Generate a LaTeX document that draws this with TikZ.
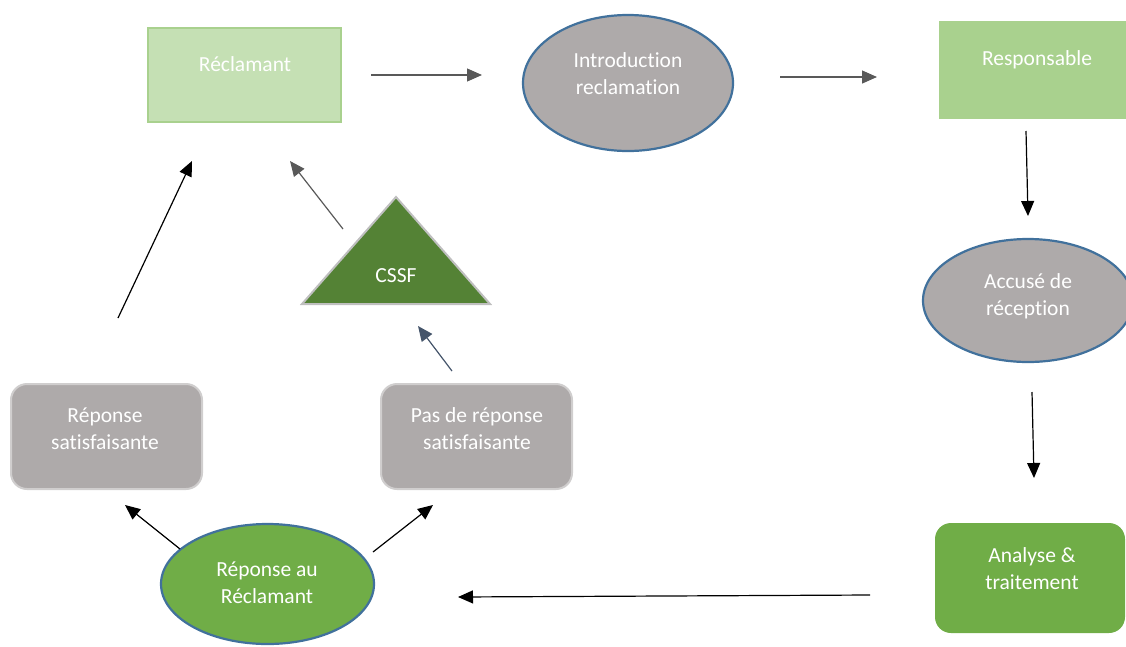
\documentclass[tikz,border=0pt]{standalone}
\usepackage{fontspec}
\setmainfont{Carlito}[Ligatures=NoCommon]
\usetikzlibrary{shapes,arrows.meta}

\definecolor{lgreen}{HTML}{C5E0B4}
\definecolor{mgreen}{HTML}{A9D18E}
\definecolor{green1}{HTML}{70AD47}
\definecolor{dgreen}{HTML}{548235}
\definecolor{grey1}{HTML}{AEAAAA}
\definecolor{grey2}{HTML}{D0CECE}
\definecolor{grey3}{HTML}{BFBFBF}
\definecolor{blue1}{HTML}{41719C}
\definecolor{dgrey}{HTML}{595959}
\definecolor{slate}{HTML}{44546A}

\begin{document}
\begin{tikzpicture}[x=1pt,y=-1pt]

	\tikzstyle{arrow1} = [-{Triangle[length=15pt,width=13pt]}, line width=1.2pt, draw=black]
	\tikzstyle{arrow2} = [arrow1, draw=dgrey]
	\tikzstyle{arrow3} = [arrow1, draw=slate]
	\tikzstyle{box1}=[rectangle, fill=lgreen, draw=mgreen, line width=2pt]
	\tikzstyle{box2}=[rectangle, fill=mgreen]
	\tikzstyle{box3}=[rectangle, rounded corners=16pt, fill=grey1, draw=grey2, line width=2pt]
	\tikzstyle{box4}=[rectangle, rounded corners=16pt, fill=green1]
	\tikzstyle{ell1}=[ellipse, fill=grey1, draw=blue1, line width=2.2pt]
	\tikzstyle{ell2}=[ellipse, fill=green1, draw=blue1, line width=2.2pt]
	\tikzstyle{txt}=[text=white, font=\fontsize{21.5}{27}\selectfont, align=center];

	\useasboundingbox (0,0) rectangle (1126,646);

	% top row
	\node [box1, minimum width=193, minimum height=94] (recl) at (244.5,75) {};
	\node [txt] (reclt) at (245,64) {Réclamant};

	\node [ell1, minimum width=210, minimum height=136] (intro) at (628,83) {};
	\node [txt] (introt) at (628,73.5) {Introduction\\reclamation};

	\node [box2, minimum width=191, minimum height=98] (resp) at (1034,70) {};
	\node [txt] (respt) at (1037,60) {Responsable};

	% right column
	\node [ell1, minimum width=210, minimum height=123] (acc) at (1028,300.5) {};
	\node [txt] (acct) at (1028,296.5) {Accusé de\\réception};

	\node [box4, minimum width=190, minimum height=110] (ana) at (1030,578) {};
	\node [txt] (anat) at (1032,568.5) {Analyse \&\\traitement};

	% bottom row
	\node [ell2, minimum width=213, minimum height=120] (rep) at (267.5,584) {};
	\node [txt] (rept) at (267,582.5) {Réponse au\\Réclamant};

	\node [box3, minimum width=191, minimum height=105] (sat) at (106.5,436.5) {};
	\node [txt] (satt) at (105,429) {Réponse\\satisfaisante};

	\node [box3, minimum width=191, minimum height=105] (pas) at (476.5,436.5) {};
	\node [txt] (past) at (477,429) {Pas de réponse\\satisfaisante};

	% CSSF
	\coordinate (t1) at (396,197);
	\coordinate (t2) at (302,304);
	\coordinate (t3) at (490,304);
	\draw [fill=dgreen, draw=grey3, line width=2pt, line join=miter] (t1) -- (t2) -- (t3) -- cycle;
	\node [txt] (cssf) at (396,276) {CSSF};

	% arrow ends
	\coordinate (a1) at (371,75);   \coordinate (b1) at (482,75);
	\coordinate (a2) at (780,77);   \coordinate (b2) at (877,77);
	\coordinate (a3) at (1026,131); \coordinate (b3) at (1028,216);
	\coordinate (a4) at (1032,392); \coordinate (b4) at (1034,478);
	\coordinate (a5) at (870,595);  \coordinate (b5) at (458,597);
	\coordinate (a6) at (180,549);  \coordinate (b6) at (125,505);
	\coordinate (a7) at (373,552);  \coordinate (b7) at (433,505);
	\coordinate (a8) at (452,371);  \coordinate (b8) at (418,326);
	\coordinate (a9) at (343,229);  \coordinate (b9) at (290,161);
	\coordinate (a10) at (118,318); \coordinate (b10) at (192,161);

	\draw [arrow2] (a1) -- (b1);
	\draw [arrow2] (a2) -- (b2);
	\draw [arrow1] (a3) -- (b3);
	\draw [arrow1] (a4) -- (b4);
	\draw [arrow1] (a5) -- (b5);
	\draw [arrow1] (a6) -- (b6);
	\draw [arrow1] (a7) -- (b7);
	\draw [arrow3] (a8) -- (b8);
	\draw [arrow2] (a9) -- (b9);
	\draw [arrow1] (a10) -- (b10);

\end{tikzpicture}
\end{document}
